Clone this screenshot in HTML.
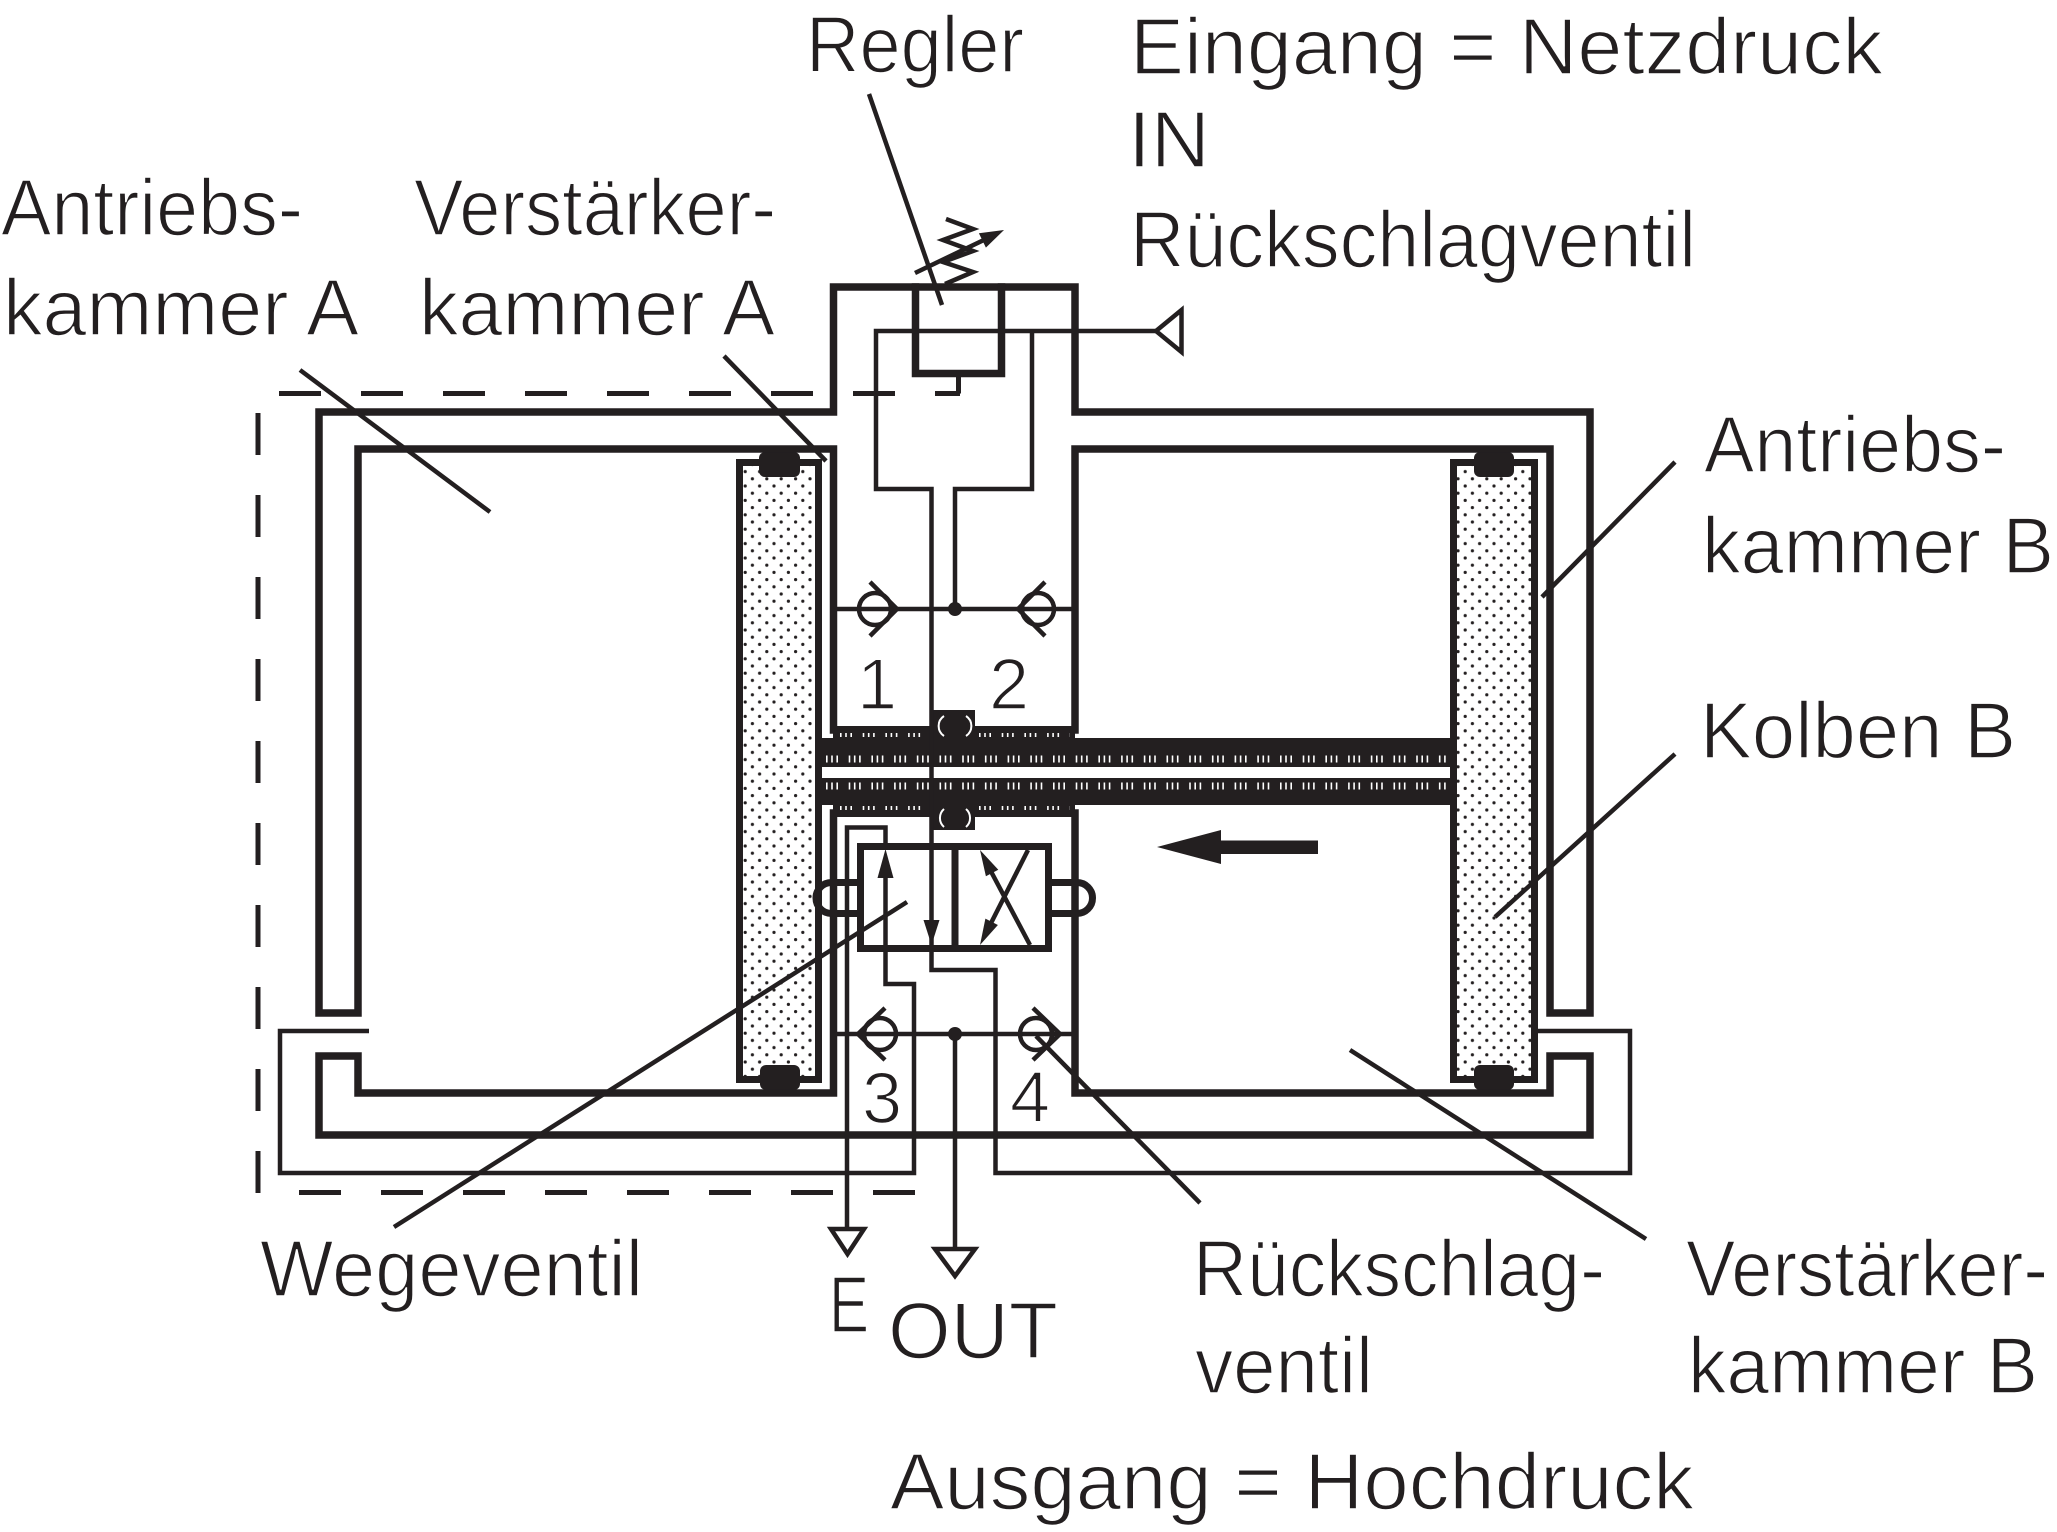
<!DOCTYPE html>
<html>
<head>
<meta charset="utf-8">
<style>
html,body{margin:0;padding:0;background:#ffffff;}
svg{display:block;}
text{font-family:"Liberation Sans","DejaVu Sans",sans-serif;fill:#231f20;stroke:#ffffff;stroke-width:1.6px;}
</style>
</head>
<body>
<svg xmlns="http://www.w3.org/2000/svg" width="2057" height="1532" viewBox="0 0 2057 1532">
<defs>
<pattern id="dots" width="14.4" height="14.4" patternUnits="userSpaceOnUse">
<circle cx="3.6" cy="3.6" r="1.6" fill="#231f20"/>
<circle cx="10.8" cy="10.8" r="1.6" fill="#231f20"/>
</pattern>
</defs>
<rect x="0" y="0" width="2057" height="1532" fill="#ffffff"/>

<!-- Pistons -->
<rect x="739.5" y="462.5" width="79" height="617" fill="url(#dots)" stroke="#231f20" stroke-width="7"/>
<rect x="1453.5" y="462.5" width="81" height="617" fill="url(#dots)" stroke="#231f20" stroke-width="7"/>
<g fill="#231f20">
<rect x="759" y="452" width="41" height="25" rx="6"/>
<rect x="760" y="1065" width="40" height="25" rx="6"/>
<rect x="1474" y="452" width="40" height="25" rx="6"/>
<rect x="1474" y="1065" width="40" height="25" rx="6"/>
</g>

<!-- Housing thick walls -->
<g fill="none" stroke="#231f20" stroke-width="7.5" stroke-linejoin="miter" stroke-linecap="square">
<path d="M932 730 H833.5 V449 H358 V1013 H319 V412 H833.5 V287 H1075 V412 H1590 V1013 H1550 V449 H1075 V730 H975"/>
<path d="M932 813 H833.5 V1093 H358 V1056 H319 V1135 H1590 V1056 H1550 V1093 H1075 V813 H975"/>
<path d="M915.5 287 V373.5 H1001.5 V287"/>
</g>

<!-- Rod & bushings -->
<g fill="#231f20">
<rect x="822" y="738" width="628" height="29"/>
<rect x="822" y="778" width="628" height="27"/>
<rect x="833" y="726" width="242" height="12"/>
<rect x="833" y="805" width="242" height="12"/>
<rect x="930" y="710" width="45" height="28"/>
<rect x="930" y="805" width="45" height="25"/>
</g>
<g fill="none" stroke="#ffffff">
<path d="M826 759 H1447" stroke-width="7" stroke-dasharray="1.6 3.6 1.6 3.6 1.6 10.7"/>
<path d="M826 786 H1447" stroke-width="7" stroke-dasharray="1.6 3.6 1.6 3.6 1.6 10.7"/>
<path d="M840 735 H926 M979 735 H1070" stroke-width="4" stroke-dasharray="1.6 3.6 1.6 3.6 1.6 10.7"/>
<path d="M840 808 H926 M979 808 H1070" stroke-width="4" stroke-dasharray="1.6 3.6 1.6 3.6 1.6 10.7"/>
<path d="M944 716 A12 12 0 0 0 944 736 M966 716 A12 12 0 0 1 966 736" stroke-width="2"/>
<path d="M944 809 A12 12 0 0 0 944 827 M966 809 A12 12 0 0 1 966 827" stroke-width="2"/>
</g>

<!-- Thin pneumatic lines -->
<g fill="none" stroke="#231f20" stroke-width="4.5" stroke-linejoin="miter">
<path d="M1156 331 H876 V489 H931.5 V970 H995.5 V1173 H1630 V1031 H1538"/>
<path d="M1032 331 V489 H955 V609"/>
<path d="M837 609 H1072"/>
<path d="M837 1034 H1072"/>
<path d="M955 1034 V1249"/>
<path d="M847 1229 V827.5 H885.5 V846"/>
<path d="M369 1031 H280 V1173 H914 V984 H885.5 V875"/>
<!-- IN / E / OUT triangles -->
<polygon points="1156,331 1181.5,310 1181.5,352"/>
<polygon points="831,1229 864,1229 847.5,1254"/>
<polygon points="935,1249 975,1249 955,1276"/>
<!-- check valves -->
<circle cx="875" cy="609" r="16"/>
<polyline points="870,582 897,609 870,636"/>
<circle cx="1038" cy="609" r="16"/>
<polyline points="1045,582 1018,609 1045,636"/>
<circle cx="880" cy="1034" r="16"/>
<polyline points="885,1008 858,1034 885,1060"/>
<circle cx="1036" cy="1034" r="16"/>
<polyline points="1033,1008 1060,1034 1033,1060"/>
<!-- spring & adjust arrow -->
<polyline points="946,219 973,229 943,240 973,251 943,262 973,272 945,284"/>
<path d="M915 273 L988 238"/>
<!-- valve X -->
<path d="M1030 945 L986 862"/>
<path d="M1028 850 L986 933"/>
</g>
<g fill="#231f20">
<circle cx="955" cy="609" r="7"/>
<circle cx="955" cy="1034" r="7"/>
<polygon points="1004,230 985.9,247.6 978.9,233.2"/>
<polygon points="885.5,849 877.5,878 893.5,878"/>
<polygon points="931.5,945 923.5,920 939.5,920"/>
<polygon points="980,850 998.3,869.7 985.9,876.3"/>
<polygon points="980,945 997.9,925 985.4,918.6"/>
<!-- motion arrow -->
<polygon points="1157,847 1221,830 1221,864"/>
<rect x="1219" y="840.5" width="99" height="13.5"/>
</g>

<!-- Directional valve -->
<g fill="none" stroke="#231f20" stroke-width="7">
<rect x="860.5" y="846.5" width="188" height="102"/>
<path d="M955 846 V949"/>
<path d="M857 882.5 H831.5 A15.5 15.5 0 0 0 831.5 913.5 H857"/>
<path d="M1052 882.5 H1077 A15.5 15.5 0 0 1 1077 913.5 H1052"/>
</g>

<!-- Drain & dashed boundary -->
<g fill="none" stroke="#231f20" stroke-width="5">
<path d="M279 393.5 H960" stroke-dasharray="42 40"/>
<path d="M958.5 393.5 V376"/>
<path d="M258 413 V1195" stroke-dasharray="42 40"/>
<path d="M299 1192.5 H916" stroke-dasharray="42 40"/>
</g>

<!-- Leader lines -->
<g fill="none" stroke="#231f20" stroke-width="4.5" stroke-linecap="butt">
<path d="M300 370 L490 512"/>
<path d="M724 356 L826 461"/>
<path d="M869 94 L942 305"/>
<path d="M1675 462 L1542 597"/>
<path d="M1675 754 L1495 917"/>
<path d="M394 1227 L907 902"/>
<path d="M1036 1036 L1200 1203"/>
<path d="M1350 1050 L1646 1239"/>
</g>

<!-- Labels -->
<g font-size="80">
<text x="806" y="72" textLength="218" lengthAdjust="spacingAndGlyphs">Regler</text>
<text x="1130" y="74" textLength="753" lengthAdjust="spacingAndGlyphs">Eingang = Netzdruck</text>
<text x="1128" y="167" textLength="82" lengthAdjust="spacingAndGlyphs">IN</text>
<text x="1130" y="267" textLength="566" lengthAdjust="spacingAndGlyphs">Rückschlagventil</text>
<text x="1" y="235" textLength="302" lengthAdjust="spacingAndGlyphs">Antriebs-</text>
<text x="3" y="335" textLength="356" lengthAdjust="spacingAndGlyphs">kammer A</text>
<text x="414" y="235" textLength="362" lengthAdjust="spacingAndGlyphs">Verstärker-</text>
<text x="419" y="335" textLength="356" lengthAdjust="spacingAndGlyphs">kammer A</text>
<text x="1704" y="472" textLength="302" lengthAdjust="spacingAndGlyphs">Antriebs-</text>
<text x="1702" y="573" textLength="352" lengthAdjust="spacingAndGlyphs">kammer B</text>
<text x="1700" y="758" textLength="316" lengthAdjust="spacingAndGlyphs">Kolben B</text>
<text x="260" y="1296" textLength="383" lengthAdjust="spacingAndGlyphs">Wegeventil</text>
<text x="1193" y="1296" textLength="412" lengthAdjust="spacingAndGlyphs">Rückschlag-</text>
<text x="1195" y="1393" textLength="178" lengthAdjust="spacingAndGlyphs">ventil</text>
<text x="1686" y="1296" textLength="362" lengthAdjust="spacingAndGlyphs">Verstärker-</text>
<text x="1688" y="1393" textLength="350" lengthAdjust="spacingAndGlyphs">kammer B</text>
<text x="829" y="1332" textLength="40" lengthAdjust="spacingAndGlyphs">E</text>
<text x="888" y="1358" textLength="170" lengthAdjust="spacingAndGlyphs">OUT</text>
<text x="890" y="1509" textLength="804" lengthAdjust="spacingAndGlyphs">Ausgang = Hochdruck</text>
</g>
<g font-size="72" text-anchor="middle">
<text x="877" y="709">1</text>
<text x="1009" y="709">2</text>
<text x="882" y="1123">3</text>
<text x="1030" y="1122">4</text>
</g>
</svg>
</body>
</html>
